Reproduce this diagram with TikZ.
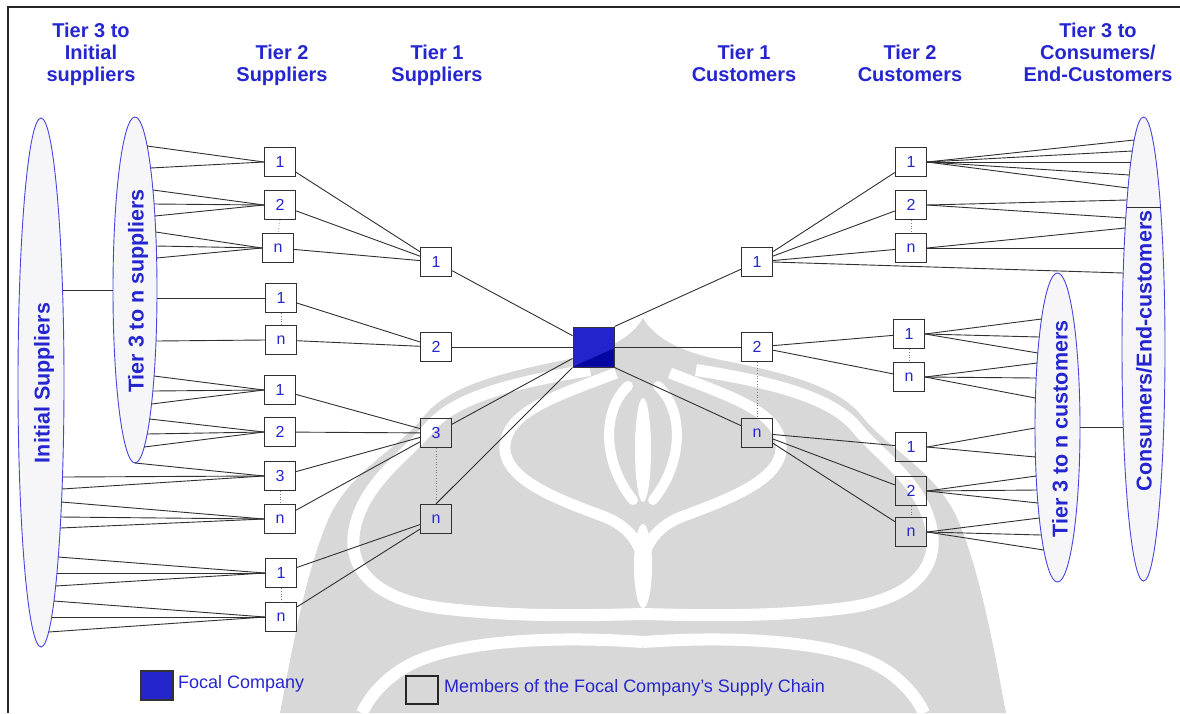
\documentclass[tikz,border=0pt]{standalone}
\usepackage{fontspec}
\setmainfont{Liberation Sans}
\usetikzlibrary{shapes.geometric,calc}

\definecolor{txtblue}{RGB}{38,38,208}
\definecolor{ellblue}{RGB}{70,70,225}
\definecolor{ellfill}{RGB}{246,246,248}
\definecolor{wm}{RGB}{216,216,216}
\definecolor{linegray}{RGB}{48,48,48}
\definecolor{focalblue}{RGB}{36,36,204}
\definecolor{focaldark}{RGB}{6,6,160}

\tikzset{
  mbox/.style={draw=linegray, line width=1.3pt, minimum width=31pt, minimum height=29pt,
    inner sep=0pt, text=txtblue, font=\fontsize{16}{16}\selectfont},
  conn/.style={draw=linegray, line width=0.9pt},
  dotlink/.style={draw=gray, line width=0.7pt, dotted},
  tier/.style={ellipse, draw=ellblue, fill=ellfill, line width=0.9pt, inner sep=0pt, outer sep=0pt},
  elabel/.style={rotate=90, text=txtblue, inner sep=0pt, font=\bfseries\fontsize{21.5}{21.5}\selectfont},
  head/.style={text=txtblue, font=\bfseries\fontsize{20}{22}\selectfont, align=center,
    anchor=north, inner sep=0pt},
  legtext/.style={text=txtblue, font=\fontsize{18}{18}\selectfont, anchor=base west, inner sep=0pt},
  wmstripe/.style={draw=white, line width=12pt},
}

% line from the border of an ellipse, at a given height, to a node anchor
% #1 target anchor, #2 ellipse, #3 ellipse centre y, #4 signed x radius, #5 y radius, #6 height
\newcommand\ellend[6]{%
  \pgfmathsetmacro\edx{(#4)*sqrt(1-(((#6)-(#3))/(#5))^2)}%
  \pgfmathsetmacro\edy{(#6)-(#3)}%
  \draw[conn] ($(#2.center)+(\edx,\edy)$) -- (#1);%
}

% one half of the background emblem
\newcommand\emblemhalf{%
  \fill[wm] (643,318) .. controls (632,338) and (605,352) .. (565,360)
    .. controls (505,372) and (450,385) .. (425,415)
    .. controls (400,448) and (350,470) .. (328,520)
    .. controls (305,575) and (292,650) .. (280,713) -- (643,713) -- cycle;
  \draw[wmstripe] (590,370) .. controls (515,382) and (455,397) .. (430,427)
    .. controls (405,457) and (365,482) .. (355,527)
    .. controls (345,572) and (380,600) .. (440,608)
    .. controls (520,618) and (600,615) .. (643,614);
  \draw[wmstripe, line width=11pt] (616,373) .. controls (560,395) and (508,410) .. (505,445)
    .. controls (502,480) and (560,500) .. (605,517)
    .. controls (630,527) and (640,545) .. (643,560);
  \draw[wmstripe, line width=10pt, line cap=round] (628,386) .. controls (602,410) and (602,462) .. (633,500);
  \draw[wmstripe] (643,642) .. controls (560,636) and (470,640) .. (420,660)
    .. controls (390,672) and (370,695) .. (362,713);
}

\begin{document}
\begin{tikzpicture}[x=1pt, y=-1pt]
\useasboundingbox (0,0) rectangle (1180,713);
\fill[white] (0,0) rectangle (1180,713);

% background emblem, mirrored about its axis
\emblemhalf
\begin{scope}[shift={(1286,0)}, xscale=-1]
  \emblemhalf
\end{scope}
\fill[white] (643,450) ellipse [x radius=8, y radius=52];
\fill[white] (643,566) ellipse [x radius=9, y radius=42];

% frame
\draw[line width=2pt, black!85] (1180,7) -- (8,7) -- (8,713);

% column headings
\node[head] (hIS) at (91,23) {Tier 3 to\\Initial\\suppliers};
\node[head] (hS2) at (282,45) {Tier 2\\Suppliers};
\node[head] (hS1) at (437,45) {Tier 1\\Suppliers};
\node[head] (hC1) at (744,45) {Tier 1\\Customers};
\node[head] (hC2) at (910,45) {Tier 2\\Customers};
\node[head] (hCE) at (1098,23) {Tier 3 to\\Consumers/\\End-Customers};

% supplier-side groups
\node[tier, minimum width=46pt, minimum height=529pt] (IS) at (41,382.5) {};
\node[tier, minimum width=44pt, minimum height=346pt] (TS) at (135,290) {};
\node[elabel] (lIS) at (44,383) {Initial Suppliers};
\node[elabel] (lTS) at (138,291) {Tier 3 to n suppliers};

% customer-side groups
\node[tier, minimum width=45pt, minimum height=309pt] (TC) at (1057.5,427.5) {};
\node[tier, minimum width=43pt, minimum height=464pt] (CE) at (1143.5,349) {};
\node[elabel] (lTC) at (1060,429) {Tier 3 to n customers};
\node[elabel] (lCE) at (1144,351) {Consumers/End-customers};

% tier 2 suppliers
\node[mbox] (sa1) at (280,162) {1};
\node[mbox] (sa2) at (280,205) {2};
\node[mbox] (san) at (278,248) {n};
\node[mbox] (sb1) at (281,298) {1};
\node[mbox] (sbn) at (281,340) {n};
\node[mbox] (sc1) at (280,390) {1};
\node[mbox] (sc2) at (280,432) {2};
\node[mbox] (sc3) at (280,476) {3};
\node[mbox] (scn) at (280,519) {n};
\node[mbox] (sd1) at (281,573) {1};
\node[mbox] (sdn) at (281,617) {n};

% tier 1 suppliers
\node[mbox] (p1) at (436,262) {1};
\node[mbox] (p2) at (436,347) {2};
\node[mbox] (p3) at (436,433) {3};
\node[mbox] (pn) at (436,519) {n};

% focal company
\node[draw=black!80, fill=focalblue, line width=1pt, minimum width=41pt, minimum height=40pt, inner sep=0pt] (focal) at (593.5,347) {};
\fill[focaldark] ([xshift=1pt,yshift=1pt]focal.south west) -- ([xshift=-1pt,yshift=19pt]focal.south east) -- ([xshift=-1pt,yshift=1pt]focal.south east) -- cycle;

% tier 1 customers
\node[mbox] (c1) at (757,262) {1};
\node[mbox] (c2) at (757,347) {2};
\node[mbox] (cn) at (757,433) {n};

% tier 2 customers
\node[mbox] (ca1) at (911,162) {1};
\node[mbox] (ca2) at (911,205) {2};
\node[mbox] (can) at (911,248) {n};
\node[mbox] (cb1) at (909,334) {1};
\node[mbox] (cbn) at (909,377) {n};
\node[mbox] (cc1) at (911,447) {1};
\node[mbox] (cc2) at (911,491) {2};
\node[mbox] (ccn) at (911,532) {n};

% tier 3 suppliers to tier 2 suppliers
\foreach \yy in {146,168} {\ellend{sa1.west}{TS}{290}{22}{173}{\yy}}
\foreach \yy in {190,204,216} {\ellend{sa2.west}{TS}{290}{22}{173}{\yy}}
\foreach \yy in {232,246,258} {\ellend{san.west}{TS}{290}{22}{173}{\yy}}
\ellend{sb1.west}{TS}{290}{22}{173}{298}
\ellend{sbn.west}{TS}{290}{22}{173}{341}
\foreach \yy in {376,391,404} {\ellend{sc1.west}{TS}{290}{22}{173}{\yy}}
\foreach \yy in {419,434,447} {\ellend{sc2.west}{TS}{290}{22}{173}{\yy}}
\draw[conn] (TS.south) -- (sc3.west);
\foreach \yy in {477,489} {\ellend{sc3.west}{IS}{382.5}{23}{264.5}{\yy}}
\foreach \yy in {502,517,528} {\ellend{scn.west}{IS}{382.5}{23}{264.5}{\yy}}
\foreach \yy in {557,573,586} {\ellend{sd1.west}{IS}{382.5}{23}{264.5}{\yy}}
\foreach \yy in {601,617,632} {\ellend{sdn.west}{IS}{382.5}{23}{264.5}{\yy}}
\ellend{TS.west}{IS}{382.5}{23}{264.5}{290}

% tier 2 suppliers to tier 1 suppliers
\foreach \s in {sa1,sa2,san} {\draw[conn] (\s) -- (p1);}
\foreach \s in {sb1,sbn} {\draw[conn] (\s) -- (p2);}
\foreach \s in {sc1,sc2,sc3,scn} {\draw[conn] (\s) -- (p3);}
\foreach \s in {sd1,sdn} {\draw[conn] (\s) -- (pn);}

% tier 1 suppliers to the focal company
\draw[conn] (p1) -- (focal);
\draw[conn] (p2) -- (focal);
\draw[conn] (p3) -- (focal);
\draw[conn] (pn.north) -- (focal.south west);

% focal company to tier 1 customers
\draw[conn] (focal.north east) -- (c1);
\draw[conn] (focal) -- (c2);
\draw[conn] (focal.south east) -- (cn);

% tier 1 customers to tier 2 customers
\foreach \s in {ca1,ca2,can} {\draw[conn] (c1) -- (\s);}
\foreach \s in {cb1,cbn} {\draw[conn] (c2) -- (\s);}
\foreach \s in {cc1,cc2,ccn} {\draw[conn] (cn) -- (\s);}

% tier 2 customers to tier 3 and end customers
\foreach \yy in {140,151,162,175,188} {\ellend{ca1.east}{CE}{349}{-21.5}{232}{\yy}}
\foreach \yy in {200,218} {\ellend{ca2.east}{CE}{349}{-21.5}{232}{\yy}}
\foreach \yy in {228,248} {\ellend{can.east}{CE}{349}{-21.5}{232}{\yy}}
\ellend{c1.east}{CE}{349}{-21.5}{232}{273}
\foreach \yy in {319,337,353} {\ellend{cb1.east}{TC}{427.5}{-22.5}{154.5}{\yy}}
\foreach \yy in {363,378,398} {\ellend{cbn.east}{TC}{427.5}{-22.5}{154.5}{\yy}}
\foreach \yy in {428,457} {\ellend{cc1.east}{TC}{427.5}{-22.5}{154.5}{\yy}}
\foreach \yy in {476,490,503} {\ellend{cc2.east}{TC}{427.5}{-22.5}{154.5}{\yy}}
\foreach \yy in {518,535,550} {\ellend{ccn.east}{TC}{427.5}{-22.5}{154.5}{\yy}}
\ellend{TC.east}{CE}{349}{-21.5}{232}{427.5}
% chord across the end-customer group
\pgfmathsetmacro\chx{21.5*sqrt(1-((207-349)/232)^2)}
\draw[conn] ($(CE.center)+(-\chx,-142)$) -- ($(CE.center)+(\chx,-142)$);

% dotted links inside stacked groups
\foreach \a/\b in {sa2/san,sb1/sbn,sc3/scn,sd1/sdn,p3/pn,c2/cn,ca2/can,cb1/cbn,cc2/ccn}
  {\draw[dotlink] (\a.south) -- (\b.north);}

% legend
\node[draw=black!80, fill=focalblue, line width=1.2pt, minimum width=32pt, minimum height=29pt, inner sep=0pt] (legF) at (157,685.5) {};
\node[legtext] (legFt) at (178,688) {Focal Company};
\node[draw=black!85, line width=1.3pt, minimum width=32pt, minimum height=28pt, inner sep=0pt] (legM) at (422,690) {};
\node[legtext] (legMt) at (444,692) {Members of the Focal Company's Supply Chain};
\end{tikzpicture}
\end{document}
